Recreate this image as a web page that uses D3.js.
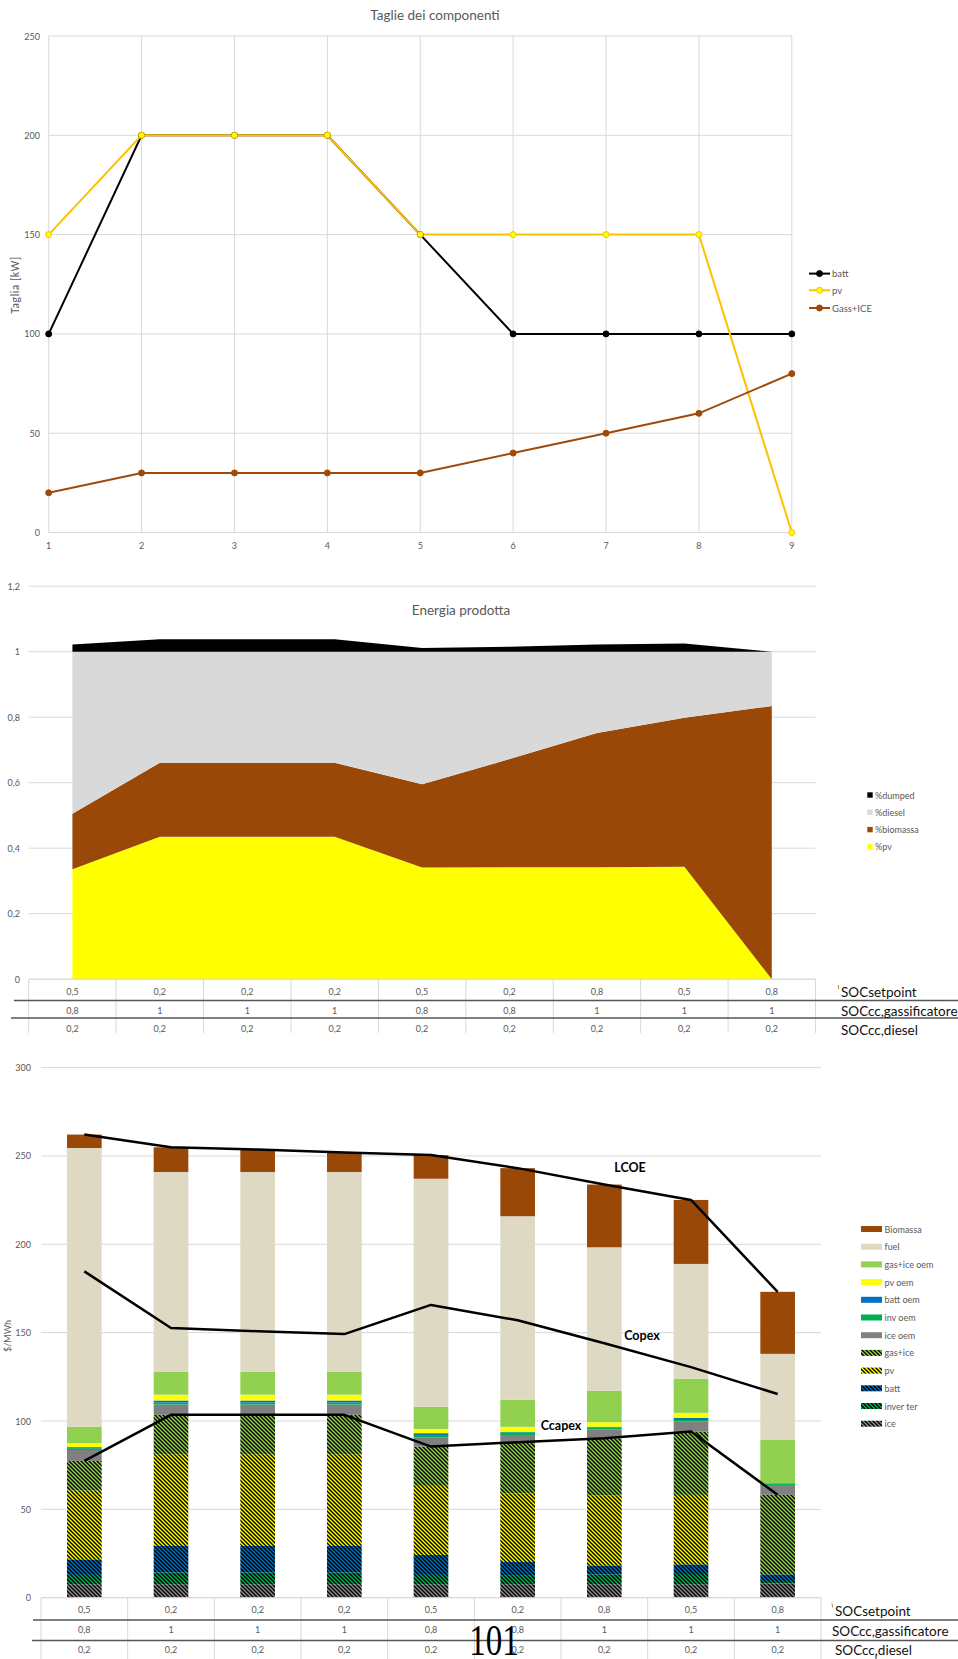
<!DOCTYPE html>
<html>
<head>
<meta charset="utf-8">
<script src="https://cdn.jsdelivr.net/npm/d3@7"></script>
<style>
  html, body { margin: 0; padding: 0; background: #fff; }
  svg { display: block; font-family: Lato, "Open Sans", "Liberation Sans", sans-serif; }
</style>
</head>
<body>
<svg id="page" width="958" height="1659"></svg>
<script>
// ---------- Taglie dei componenti ----------
const runs = [1, 2, 3, 4, 5, 6, 7, 8, 9];
const battSize = [100, 200, 200, 200, 150, 100, 100, 100, 100];
const pvSize = [150, 200, 200, 200, 150, 150, 150, 150, 0];
const gassSize = [20, 30, 30, 30, 30, 40, 50, 60, 80];
const sizeTicks = [0, 50, 100, 150, 200, 250];

// ---------- Energia prodotta (quote) ----------
const sharePv = [0.336, 0.435, 0.435, 0.435, 0.341, 0.342, 0.342, 0.343, 0];
const shareBiomassa = [0.169, 0.226, 0.226, 0.226, 0.254, 0.330, 0.410, 0.455, 0.834];
const shareDiesel = [0.495, 0.339, 0.339, 0.339, 0.405, 0.328, 0.248, 0.202, 0.166];
const shareDumped = [0.022, 0.038, 0.038, 0.038, 0.011, 0.015, 0.022, 0.025, 0];
const shareTicks = [0, 0.2, 0.4, 0.6, 0.8, 1, 1.2];

// ---------- Parametri di controllo ----------
const socSetpoint = ["0,5", "0,2", "0,2", "0,2", "0,5", "0,2", "0,8", "0,5", "0,8"];
const socGass = ["0,8", "1", "1", "1", "0,8", "0,8", "1", "1", "1"];
const socDiesel = ["0,2", "0,2", "0,2", "0,2", "0,2", "0,2", "0,2", "0,2", "0,2"];
const tableLabels = ["SOCsetpoint", "SOCcc,gassificatore", "SOCcc,diesel"];

// ---------- Costi [$/MWh] ----------
const costIce = [7.6, 7.6, 7.6, 7.6, 7.6, 7.6, 7.6, 7.6, 8.1];
const costInverter = [5.3, 6.6, 6.6, 6.6, 5.3, 5.2, 5.6, 5.8, 0.8];
const costBatt = [8.8, 15.1, 15.1, 15.1, 11.3, 7.4, 5.1, 5.5, 4.3];
const costPv = [38.9, 51.9, 51.9, 51.9, 39.1, 38.9, 39.5, 39.3, 0];
const costGasIce = [16.8, 22.3, 22.3, 22.3, 22.2, 28.9, 32.4, 35.8, 45.0];
const costIceOem = [6.2, 5.8, 5.8, 5.8, 5.3, 4.1, 5.1, 5.7, 5.6];
const costInvOem = [1.0, 1.1, 1.1, 1.1, 1.3, 1.5, 1.1, 0.9, 0.8];
const costBattOem = [0.6, 1.2, 1.2, 1.2, 1.0, 0.3, 0.4, 1.2, 0.2];
const costPvOem = [2.2, 3.3, 3.3, 3.3, 2.4, 2.8, 2.5, 2.8, 0];
const costGasIceOem = [9.3, 12.9, 12.9, 12.9, 12.5, 15.3, 17.9, 19.4, 24.5];
const costFuel = [157.8, 113.1, 113.1, 113.1, 129.1, 103.9, 81.1, 64.9, 48.7];
const costBiomassa = [7.6, 14.0, 12.7, 11.1, 13.4, 27.2, 35.5, 36.2, 35.1];
const lcoe = [262.1, 254.9, 253.6, 252.0, 250.5, 243.1, 233.8, 225.1, 173.1];
const copex = [184.7, 152.6, 150.8, 149.2, 165.7, 157.0, 144.0, 130.5, 115.3];
const ccapex = [77.4, 103.5, 103.5, 103.5, 85.5, 88.0, 90.2, 94.0, 58.2];
const costTicks = [0, 50, 100, 150, 200, 250, 300];

const svg = d3.select("#page");
const defs = svg.append("defs");
const GRID = "#d9d9d9", TXT = "#595959";
const fmtIt = d => String(d).replace(".", ",");

// =============== Grafico 1 ===============
{
  const g = svg.append("g");
  const x = d3.scaleLinear().domain([1, 9]).range([48.7, 791.8]);
  const y = d3.scaleLinear().domain([0, 250]).range([532.5, 36]);

  g.append("text").attr("x", 435).attr("y", 15).attr("text-anchor", "middle")
    .attr("dominant-baseline", "central").attr("font-size", 13.5).attr("fill", TXT)
    .text("Taglie dei componenti");

  g.selectAll(".hg").data(sizeTicks).join("line")
    .attr("x1", x(1)).attr("x2", x(9)).attr("y1", d => y(d)).attr("y2", d => y(d))
    .attr("stroke", GRID).attr("stroke-width", 1);
  g.selectAll(".vg").data(runs).join("line")
    .attr("x1", d => x(d)).attr("x2", d => x(d)).attr("y1", y(0)).attr("y2", y(250))
    .attr("stroke", GRID).attr("stroke-width", 1);

  g.selectAll(".yt").data(sizeTicks).join("text")
    .attr("x", 40).attr("y", d => y(d)).attr("text-anchor", "end")
    .attr("dominant-baseline", "central").attr("font-size", 9).attr("fill", TXT).text(d => d);
  g.selectAll(".xt").data(runs).join("text")
    .attr("x", d => x(d)).attr("y", 545).attr("text-anchor", "middle")
    .attr("dominant-baseline", "central").attr("font-size", 9).attr("fill", TXT).text(d => d);

  g.append("text").attr("transform", "translate(15,285) rotate(-90)")
    .attr("text-anchor", "middle").attr("dominant-baseline", "central")
    .attr("font-size", 10.5).attr("letter-spacing", 0.6).attr("fill", TXT).text("Taglia [kW]");

  const series = [
    { name: "batt", vals: battSize, stroke: "#000000", fill: "#000000" },
    { name: "pv", vals: pvSize, stroke: "#FFC000", fill: "#FFFF00" },
    { name: "Gass+ICE", vals: gassSize, stroke: "#9E4A0A", fill: "#9E4A0A" }
  ];
  const line = d3.line().x((d, i) => x(runs[i])).y(d => y(d));
  series.forEach(s => {
    g.append("path").attr("d", line(s.vals)).attr("fill", "none")
      .attr("stroke", s.stroke).attr("stroke-width", 2);
  });
  series.forEach(s => {
    g.selectAll(null).data(s.vals).join("circle")
      .attr("cx", (d, i) => x(runs[i])).attr("cy", d => y(d)).attr("r", 3)
      .attr("fill", s.fill).attr("stroke", s.stroke).attr("stroke-width", 1);
  });

  const legY = [273.6, 290.3, 308];
  series.forEach((s, i) => {
    g.append("line").attr("x1", 809).attr("x2", 830).attr("y1", legY[i]).attr("y2", legY[i])
      .attr("stroke", s.stroke).attr("stroke-width", 2);
    g.append("circle").attr("cx", 819.5).attr("cy", legY[i]).attr("r", 3)
      .attr("fill", s.fill).attr("stroke", s.stroke);
    g.append("text").attr("x", 832).attr("y", legY[i]).attr("dominant-baseline", "central")
      .attr("font-size", 9.5).attr("fill", TXT).text(s.name);
  });
}

// Tabella dei parametri sotto un grafico
function paramTable(g, x, top, rowY, lineY, lineX0, labelX, bottom) {
  const dom = x.domain();
  const left = x.range()[0], right = x.range()[1];
  const bounds = [left].concat(dom.slice(1).map(i => x(i) - (x.step() - x.bandwidth()) / 2), [right]);
  g.append("line").attr("x1", left).attr("x2", right).attr("y1", top).attr("y2", top)
    .attr("stroke", GRID);
  g.selectAll(null).data(bounds).join("line")
    .attr("x1", d => d).attr("x2", d => d).attr("y1", top).attr("y2", bottom)
    .attr("stroke", GRID);
  lineY.forEach((ly, i) => {
    g.append("line").attr("x1", lineX0[i]).attr("x2", 958).attr("y1", ly).attr("y2", ly)
      .attr("stroke", "#555").attr("stroke-width", 1.6);
  });
  [socSetpoint, socGass, socDiesel].forEach((row, r) => {
    g.selectAll(null).data(row).join("text")
      .attr("x", (d, i) => x(i) + x.bandwidth() / 2).attr("y", rowY[r])
      .attr("text-anchor", "middle").attr("dominant-baseline", "central")
      .attr("font-size", 9).attr("fill", TXT).text(d => d);
    g.append("text").attr("x", labelX[r]).attr("y", rowY[r] + 1)
      .attr("dominant-baseline", "central").attr("font-size", 13.5).attr("fill", "#111")
      .text(tableLabels[r]);
  });
}

// =============== Grafico 2 ===============
{
  const g = svg.append("g");
  const x = d3.scaleBand().domain(d3.range(9)).range([28.7, 815.5]).padding(0);
  const y = d3.scaleLinear().domain([0, 1.2]).range([979.2, 586.2]);
  const cx = i => x(i) + x.bandwidth() / 2;

  g.selectAll(null).data(shareTicks).join("line")
    .attr("x1", 28.7).attr("x2", 815.5).attr("y1", d => y(d)).attr("y2", d => y(d))
    .attr("stroke", GRID);
  g.selectAll(null).data(shareTicks).join("text")
    .attr("x", 20).attr("y", d => y(d)).attr("text-anchor", "end")
    .attr("dominant-baseline", "central").attr("font-size", 9).attr("fill", TXT)
    .text(d => fmtIt(d));

  g.append("text").attr("x", 461).attr("y", 610).attr("text-anchor", "middle")
    .attr("dominant-baseline", "central").attr("font-size", 13.5).attr("fill", TXT)
    .text("Energia prodotta");

  const rows = runs.map((r, i) => ({
    pv: sharePv[i], biomassa: shareBiomassa[i], diesel: shareDiesel[i], dumped: shareDumped[i]
  }));
  const keys = ["pv", "biomassa", "diesel", "dumped"];
  const colors = { pv: "#FFFF00", biomassa: "#9A4808", diesel: "#D9D9D9", dumped: "#000000" };
  const stacked = d3.stack().keys(keys)(rows);
  const area = d3.area().x((d, i) => cx(i)).y0(d => y(d[0])).y1(d => y(d[1]));
  g.selectAll(null).data(stacked).join("path")
    .attr("d", area).attr("fill", d => colors[d.key]);

  const legend = [
    { k: "dumped", t: "%dumped" }, { k: "diesel", t: "%diesel" },
    { k: "biomassa", t: "%biomassa" }, { k: "pv", t: "%pv" }
  ];
  const legY = [795, 812.3, 829.6, 846.9];
  legend.forEach((l, i) => {
    g.append("rect").attr("x", 867.3).attr("y", legY[i] - 2.7).attr("width", 5.4).attr("height", 5.4)
      .attr("fill", colors[l.k]);
    g.append("text").attr("x", 875).attr("y", legY[i]).attr("dominant-baseline", "central")
      .attr("font-size", 9).attr("fill", TXT).text(l.t);
  });

  paramTable(g, x, 979.2, [991, 1010, 1028.5], [1000.5, 1018], [14, 11], [841, 841, 841], 1033);
  g.append("line").attr("x1", 838.2).attr("x2", 838.8).attr("y1", 985).attr("y2", 989)
    .attr("stroke", "#b08850").attr("stroke-width", 1);
}

// =============== Grafico 3 ===============
{
  const g = svg.append("g");
  const x = d3.scaleBand().domain(d3.range(9)).range([41, 821]).paddingInner(0.6).paddingOuter(0.3);
  const y = d3.scaleLinear().domain([0, 300]).range([1597.7, 1067.6]);
  const cx = i => x(i) + x.bandwidth() / 2;

  function hatch(id, color) {
    const p = defs.append("pattern").attr("id", id).attr("patternUnits", "userSpaceOnUse")
      .attr("width", 4).attr("height", 4);
    p.append("rect").attr("width", 4).attr("height", 4).attr("fill", color);
    p.append("path").attr("d", "M-1,3 l2,2 M0,0 l4,4 M3,-1 l2,2")
      .attr("stroke", "#000").attr("stroke-width", 1.4);
  }
  hatch("h-ice", "#8C8C8C");
  hatch("h-inv", "#00B050");
  hatch("h-batt", "#0070C0");
  hatch("h-pv", "#FFFF00");
  hatch("h-gasice", "#92D050");

  const keys = [
    { k: "ice", t: "ice", fill: "url(#h-ice)", vals: costIce },
    { k: "inverter", t: "inver ter", fill: "url(#h-inv)", vals: costInverter },
    { k: "batt", t: "batt", fill: "url(#h-batt)", vals: costBatt },
    { k: "pv", t: "pv", fill: "url(#h-pv)", vals: costPv },
    { k: "gasice", t: "gas+ice", fill: "url(#h-gasice)", vals: costGasIce },
    { k: "iceOem", t: "ice oem", fill: "#808080", vals: costIceOem },
    { k: "invOem", t: "inv oem", fill: "#00B050", vals: costInvOem },
    { k: "battOem", t: "batt oem", fill: "#0070C0", vals: costBattOem },
    { k: "pvOem", t: "pv oem", fill: "#FFFF00", vals: costPvOem },
    { k: "gasiceOem", t: "gas+ice oem", fill: "#92D050", vals: costGasIceOem },
    { k: "fuel", t: "fuel", fill: "#DDD9C3", vals: costFuel },
    { k: "biomassa", t: "Biomassa", fill: "#9A4808", vals: costBiomassa }
  ];

  g.selectAll(null).data(costTicks).join("line")
    .attr("x1", 41).attr("x2", 821).attr("y1", d => y(d)).attr("y2", d => y(d))
    .attr("stroke", GRID);
  g.selectAll(null).data(costTicks).join("text")
    .attr("x", 31).attr("y", d => y(d)).attr("text-anchor", "end")
    .attr("dominant-baseline", "central").attr("font-size", 9).attr("fill", TXT).text(d => d);
  g.append("text").attr("transform", "translate(7,1336) rotate(-90)")
    .attr("text-anchor", "middle").attr("dominant-baseline", "central")
    .attr("font-size", 9).attr("fill", TXT).text("$/MWh");

  const rows = runs.map((r, i) => {
    const o = {};
    keys.forEach(k => { o[k.k] = k.vals[i]; });
    return o;
  });
  const stacked = d3.stack().keys(keys.map(k => k.k))(rows);
  stacked.forEach((layer, li) => {
    g.selectAll(null).data(layer).join("rect")
      .attr("x", (d, i) => x(i)).attr("width", x.bandwidth())
      .attr("y", d => y(d[1])).attr("height", d => Math.max(0, y(d[0]) - y(d[1])))
      .attr("fill", keys[li].fill);
  });

  const line = d3.line().x((d, i) => cx(i)).y(d => y(d));
  [lcoe, copex, ccapex].forEach(v => {
    g.append("path").attr("d", line(v)).attr("fill", "none")
      .attr("stroke", "#000").attr("stroke-width", 2.5).attr("stroke-linejoin", "round");
  });

  const lbl = (t, px, val) => g.append("text").attr("x", px).attr("y", y(val))
    .attr("text-anchor", "middle").attr("dominant-baseline", "central")
    .attr("font-size", 12.5).attr("font-weight", "bold").attr("fill", "#000").text(t);
  lbl("LCOE", 630, 243.5);
  lbl("Copex", 642, 148.4);
  lbl("Ccapex", 561, 97.5);

  const legY0 = 1229, legStep = 17.7;
  keys.slice().reverse().forEach((k, i) => {
    const ly = legY0 + i * legStep;
    g.append("rect").attr("x", 861).attr("y", ly - 3).attr("width", 21).attr("height", 6)
      .attr("fill", k.fill);
    g.append("text").attr("x", 884.5).attr("y", ly).attr("dominant-baseline", "central")
      .attr("font-size", 9).attr("fill", TXT).text(k.t);
  });

  paramTable(g, x, 1597.7, [1609.5, 1629.5, 1649], [1620, 1640.5], [33, 32], [835, 832, 835], 1659);
  g.append("line").attr("x1", 832).attr("x2", 832.6).attr("y1", 1603.5).attr("y2", 1607.5)
    .attr("stroke", "#b08850").attr("stroke-width", 1);
  g.append("line").attr("x1", 876).attr("x2", 876).attr("y1", 1655).attr("y2", 1659)
    .attr("stroke", "#333").attr("stroke-width", 1);
}

// numero di pagina
svg.append("text").attr("transform", "translate(494,1655) scale(1,1.35)")
  .attr("text-anchor", "middle").attr("font-family", "'Liberation Serif', 'DejaVu Serif', serif")
  .attr("font-size", 33).attr("fill", "#000").text("101");
</script>
</body>
</html>
